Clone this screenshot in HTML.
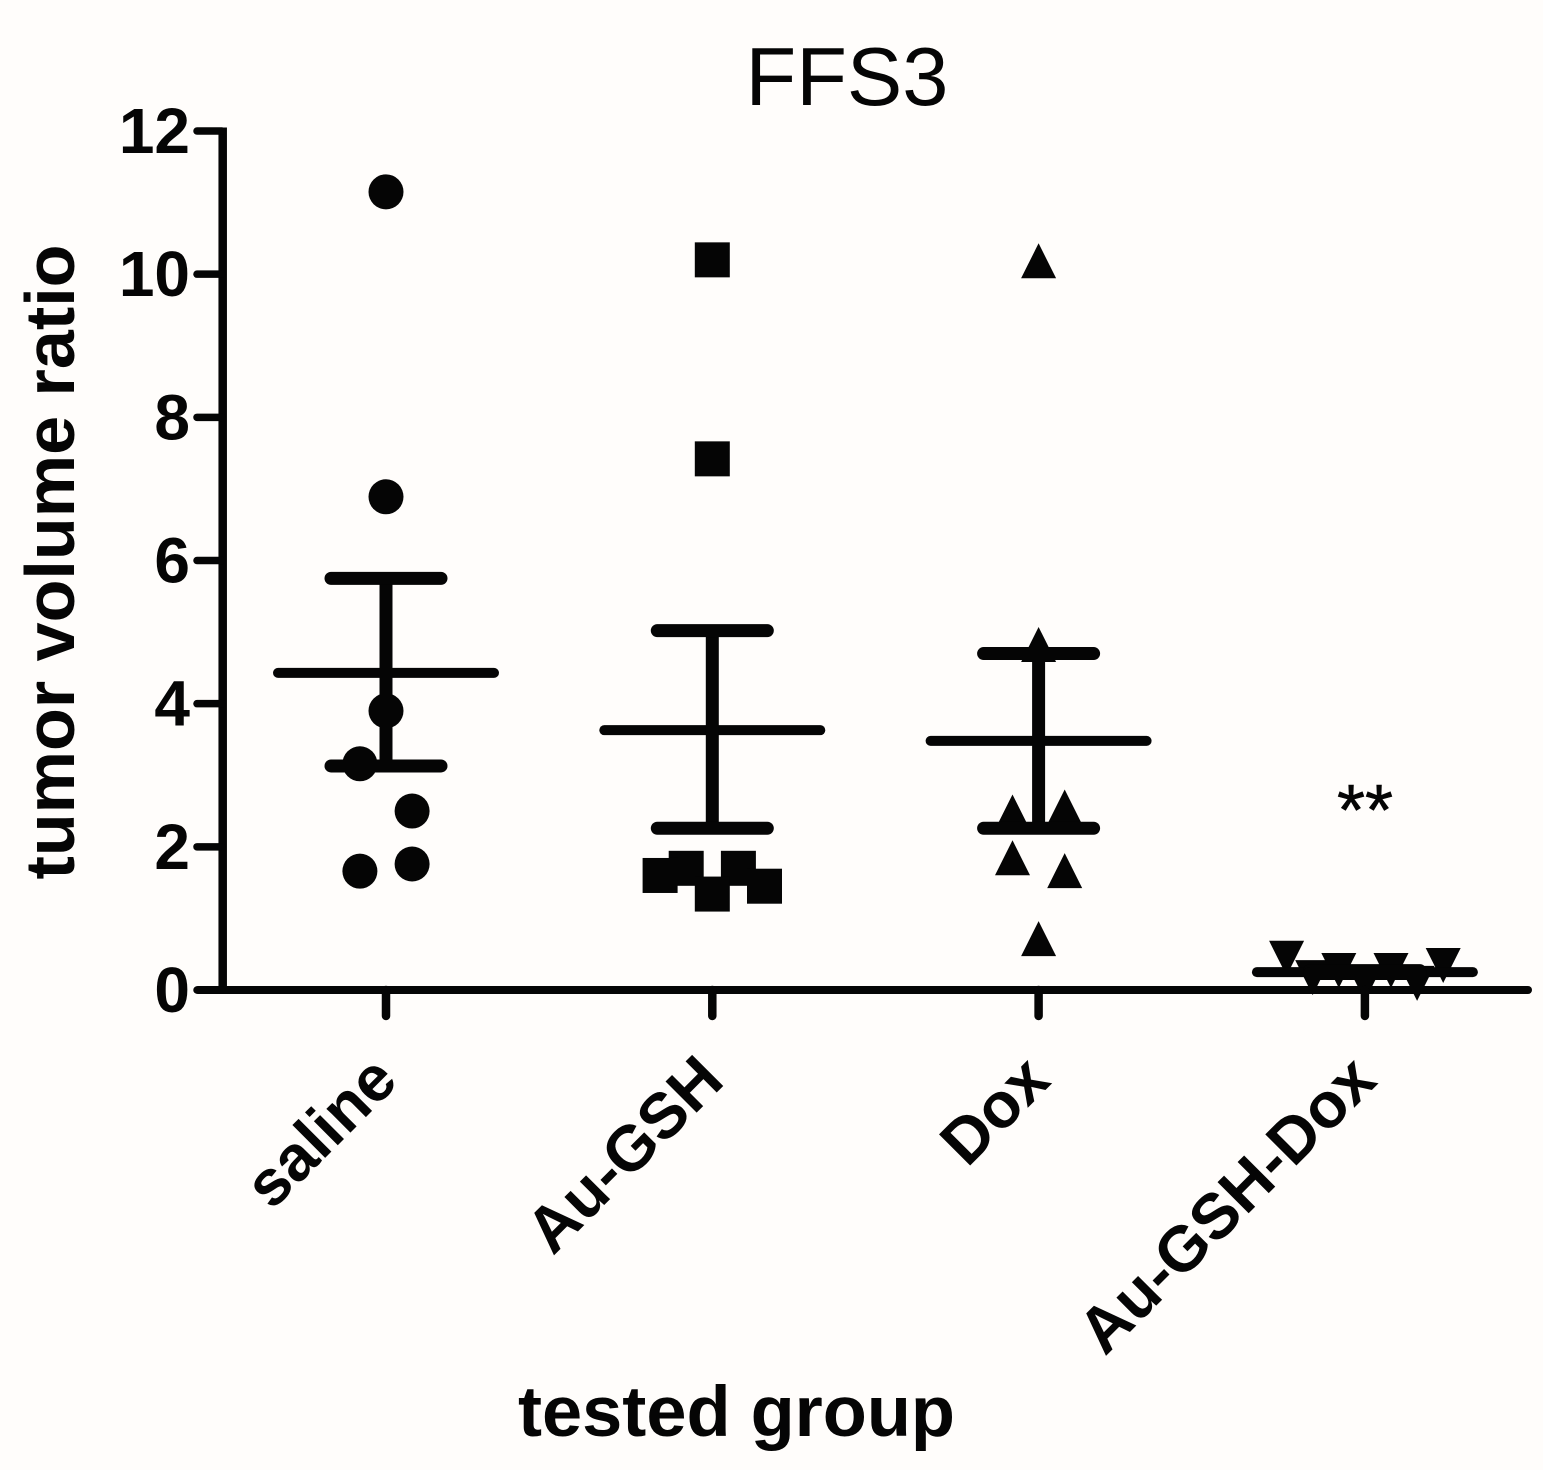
<!DOCTYPE html>
<html lang="en">
<head>
<meta charset="utf-8">
<title>FFS3 tumor volume ratio</title>
<style>
html,body{margin:0;padding:0;background:#fffdfb;}
svg{display:block;}
text{font-family:"Liberation Sans",sans-serif;fill:#050505;}
.b{font-weight:700;}
</style>
</head>
<body>
<svg id="chart" xmlns="http://www.w3.org/2000/svg" width="1543" height="1470" viewBox="0 0 1543 1470">
<rect width="1543" height="1470" fill="#fffdfb"/>
<text x="847" y="105" font-size="83" text-anchor="middle">FFS3</text>
<text class="b" x="0" y="0" font-size="70" text-anchor="middle" textLength="635" lengthAdjust="spacingAndGlyphs" transform="translate(74 562) rotate(-90)">tumor volume ratio</text>
<text class="b" x="518" y="1436" font-size="71" textLength="437" lengthAdjust="spacingAndGlyphs">tested group</text>
<text x="1365" y="835" font-size="72" text-anchor="middle" stroke="#050505" stroke-width="0.6">**</text>
<g id="marks"></g>
<g id="axes"></g>
</svg>
<script>
const categories = ['saline', 'Au-GSH', 'Dox', 'Au-GSH-Dox'];
const yTicks = [0, 2, 4, 6, 8, 10, 12];
const salineValues = [11.15, 6.89, 3.9, 3.16, 2.5, 1.76, 1.66];
const salineSlots = [0, 0, 0, -1, 1, 1, -1];
const auGshValues = [10.2, 7.42, 1.7, 1.6, 1.7, 1.45, 1.34];
const auGshSlots = [0, 0, -1, -2, 1, 2, 0];
const doxValues = [10.18, 4.82, 2.48, 2.55, 1.84, 1.66, 0.71];
const doxSlots = [0, 0, -1, 1, -1, 1, 0];
const auGshDoxValues = [0.45, 0.18, 0.28, 0.1, 0.28, 0.1, 0.35];
const auGshDoxSlots = [-3, -2, -1, 0, 1, 2, 3];
const meanValues = [4.43, 3.63, 3.48, 0.25];
const upperErrors = [5.75, 5.02, 4.7, 0.27];
const lowerErrors = [3.13, 2.26, 2.26, 0.23];

const NS = 'http://www.w3.org/2000/svg';
const marks = document.getElementById('marks');
const axes = document.getElementById('axes');
const INK = '#050505';

function yScale(v) { return 990 - v * (859 / 12); }
function xScale(i) { return 386 + i * 326.3; }
const SLOT = 26.1;

function make(tag, attrs, parent) {
  const el = document.createElementNS(NS, tag);
  for (const k in attrs) el.setAttribute(k, attrs[k]);
  parent.appendChild(el);
  return el;
}
function line(x1, y1, x2, y2, w, parent, cap) {
  return make('line', { x1, y1, x2, y2, stroke: INK, 'stroke-width': w, 'stroke-linecap': cap || 'round' }, parent);
}
function drawMarker(kind, cx, cy, parent) {
  if (kind === 'circle') return make('circle', { cx, cy, r: 17.5, fill: INK }, parent);
  if (kind === 'square') return make('rect', { x: cx - 17.5, y: cy - 17.5, width: 35, height: 35, fill: INK }, parent);
  if (kind === 'up') return make('polygon', { points: `${cx},${cy - 18} ${cx + 17.5},${cy + 17} ${cx - 17.5},${cy + 17}`, fill: INK }, parent);
  return make('polygon', { points: `${cx},${cy + 18} ${cx + 17.5},${cy - 17} ${cx - 17.5},${cy - 17}`, fill: INK }, parent);
}

const seriesValues = [salineValues, auGshValues, doxValues, auGshDoxValues];
const seriesSlots = [salineSlots, auGshSlots, doxSlots, auGshDoxSlots];
const seriesKinds = ['circle', 'square', 'up', 'down'];

seriesValues.forEach(function (vals, i) {
  const g = make('g', {}, marks);
  
  
  vals.forEach(function (v, j) {
    const m = drawMarker(seriesKinds[i], xScale(i) + seriesSlots[i][j] * SLOT, yScale(v), g);
    
    
  });
  const cx = xScale(i);
  const mean = line(cx - 108, yScale(meanValues[i]), cx + 108, yScale(meanValues[i]), 10, g);
  
  
  const stem = line(cx, yScale(upperErrors[i]), cx, yScale(lowerErrors[i]), 13, g, 'butt');
  
  
  const capTop = line(cx - 55, yScale(upperErrors[i]), cx + 55, yScale(upperErrors[i]), 13, g);
  
  
  const capBottom = line(cx - 55, yScale(lowerErrors[i]), cx + 55, yScale(lowerErrors[i]), 13, g);
  
  
});

const yAxis = line(222.7, yScale(12) - 3.5, 222.7, yScale(0), 8.5, axes, 'butt');


const xAxis = line(198, yScale(0), 1528, yScale(0), 8, axes);



yTicks.forEach(function (t) {
  const y = yScale(t);
  const tick = line(197, y, 222, y, 7.5, axes);
  
  
  const label = make('text', { x: 190, y: y + 22, 'font-size': 64, 'text-anchor': 'end', class: 'b' }, axes);
  label.textContent = String(t);
  
  
});

categories.forEach(function (c, i) {
  const x = xScale(i);
  const tick = line(x, yScale(0), x, 1016, 8.5, axes);
  
  
  const label = make('text', { x: 0, y: 0, 'font-size': 64, 'text-anchor': 'end', class: 'b', transform: `translate(${x + 14} 1083) rotate(-45)` }, axes);
  label.textContent = c;
  
  
});
</script>
</body>
</html>
